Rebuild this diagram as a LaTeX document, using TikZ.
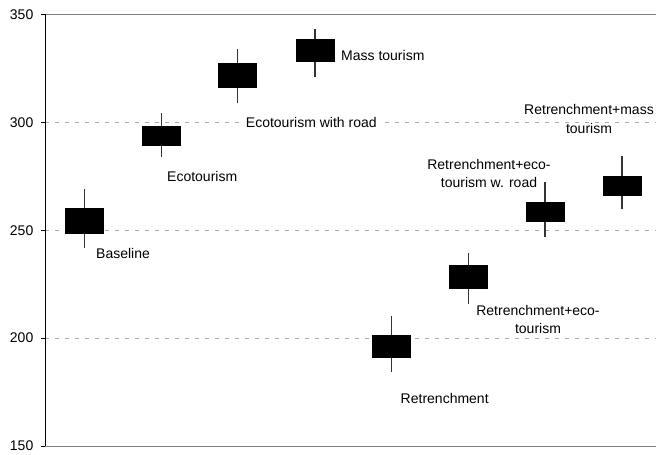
\documentclass[tikz,border=0pt]{standalone}
\usepackage{fontspec}
\setmainfont{Liberation Sans}
\begin{document}
\begin{tikzpicture}[x=1pt,y=1pt,
    lbl/.style={inner sep=1pt,align=center,font=\fontsize{14}{18.5}\selectfont},
    grid/.style={gray!65,line width=0.8pt,dash pattern=on 4pt off 6pt}]
    \useasboundingbox (0,0) rectangle (657,455);
    \begin{scope}[yshift=-314.6pt,y=2.1575pt]
        \foreach \v in {200,250,300} \draw[grid] (45,\v)--(656,\v);
        \draw[gray,line width=0.9pt] (45,350)--(656,350) (45,150)--(656,150);
        \draw[line width=0.9pt] (45,150)--(45,350);
        \foreach \v in {150,200,...,350}{
            \draw[line width=0.8pt] (41,\v)--(45,\v);
            \node[lbl,anchor=east] (tick\v) at (34.5,\v) {\v};
        }
        % x / low / bottom / top / high
        \foreach \x/\lo/\b/\t/\hi in {84.5/241.8/248.3/260.3/269.1, 161.3/284.0/289.0/298.2/304.3,
            237.7/308.8/316.1/327.4/334.1, 315/320.9/327.8/338.5/343.3, 391.5/184.4/190.9/201.3/210.4,
            468.7/215.7/222.8/233.9/239.3, 545/246.7/254.0/263.1/272.5, 622/259.9/266.0/275.3/284.6}{
            \draw[black!80,line width=1.2pt] (\x,\lo)--(\x,\hi);
            \fill (\x-19.5,\b) rectangle (\x+19.5,\t);
        }
    \end{scope}
    \node[lbl,anchor=west] (baseline) at (95,201.7) {Baseline};
    \node[lbl] (eco) at (202.2,278.3) {Ecotourism};
    \node[lbl,fill=white,inner xsep=5pt] (ecoroad) at (311.3,332.7) {Ecotourism with road};
    \node[lbl,anchor=west] (mass) at (340,399.7) {Mass tourism};
    \node[lbl] (retrmass) at (589,335.8) {Retrenchment+mass\\tourism};
    \node[lbl] (retrecoroad) at (489,281.5) {Retrenchment+eco-\\tourism w. road};
    \node[lbl] (retreco) at (538,135.5) {Retrenchment+eco-\\tourism};
    \node[lbl] (retr) at (444.7,56.7) {Retrenchment};
\end{tikzpicture}
\end{document}
